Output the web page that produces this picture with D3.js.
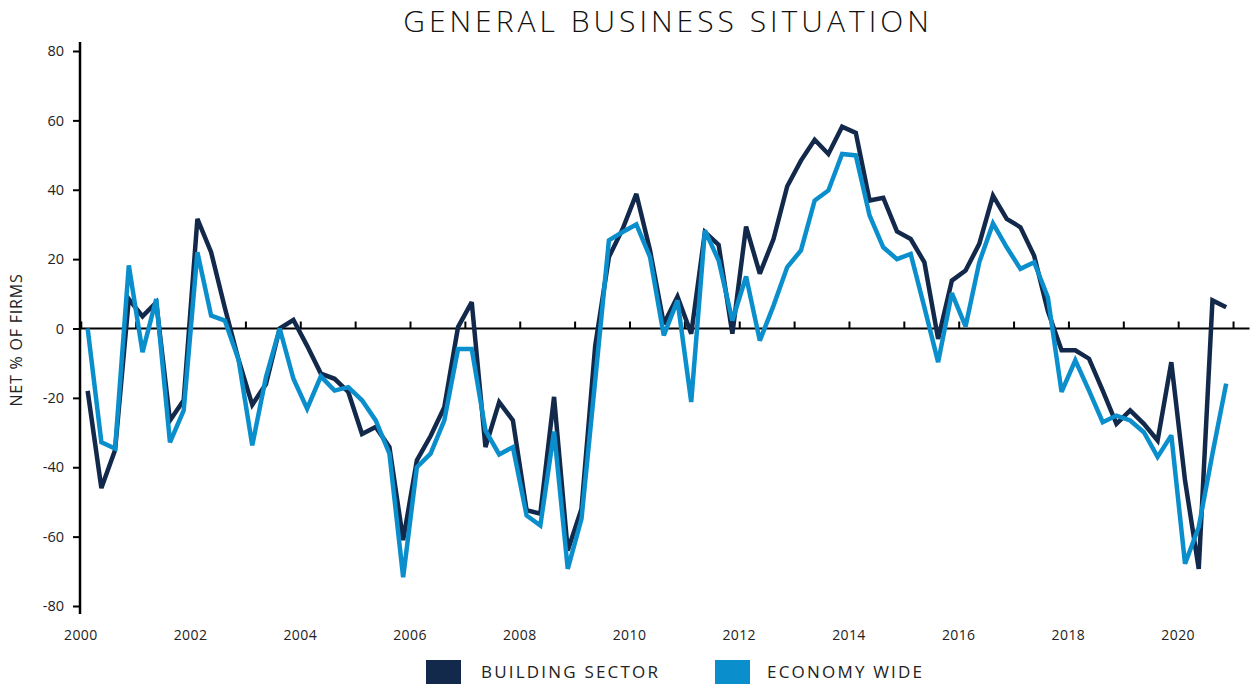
<!DOCTYPE html>
<html>
<head>
<meta charset="utf-8">
<script src="https://cdn.jsdelivr.net/npm/d3@7"></script>
<style>
  body { margin: 0; background: #fff; }
  svg { display: block; font-family: "Open Sans", sans-serif; }
</style>
</head>
<body>
<script>
// quarterly data, 2000 Q1 .. 2020 Q4
var years = d3.range(2000, 2021);
var quarters = [1, 2, 3, 4];

var building = [
  -18, -46, -35, 8.5, 3.5, 7.5, -26.5, -20.7,
  31.6, 22, 6, -9, -22, -16, 0, 2.5,
  -5, -13, -14.5, -18.3, -30.4, -28.4, -34.2, -61,
  -38, -31, -22.7, 0.4, 7.6, -34.2, -21.2, -26.5,
  -52.4, -53.4, -19.7, -64, -52, -5, 20.6, 28.7,
  38.8, 22.5, 1.3, 9.2, -1.5, 27.8, 24.1, -1.5,
  29.4, 15.8, 25.8, 41, 48.4, 54.4, 50.3, 58.2,
  56.4, 36.9, 37.7, 28, 25.8, 19.1, -3, 13.8,
  16.7, 24.4, 38.3, 31.6, 29.2, 21, 5, -6.3,
  -6.3, -8.7, -17.9, -27.5, -23.6, -27.5, -32.3, -9.7,
  -43.8, -69.3, 8.1, 6.1
];

var economy = [
  0, -32.8, -34.6, 18.2, -6.8, 8.5, -32.8, -23.6,
  22, 3.7, 2.3, -9, -33.7, -14, 0, -14.5,
  -23.1, -13.8, -17.9, -16.9, -20.7, -26.5, -36.1, -71.7,
  -40, -36.1, -26.5, -5.9, -5.9, -29.4, -36.3, -34.2,
  -53.9, -56.8, -29.7, -69.3, -54.9, -15, 25.4, 27.8,
  30, 20.6, -2, 8.1, -21.2, 28.3, 19.6, 2.3,
  15, -3.5, 6.6, 17.7, 22.5, 36.9, 39.8, 50.3,
  49.9, 32.6, 23.4, 20, 21.5, 6.1, -9.7, 10.2,
  0.6, 19.1, 30.3, 23.4, 17.2, 19.1, 9, -18.3,
  -9.2, -17.9, -27, -25.1, -26.5, -29.9, -37, -30.8,
  -67.8, -57.2, -36.1, -15.9
];

var yTicks = [-80, -60, -40, -20, 0, 20, 40, 60, 80];
var xLabels = [2000, 2002, 2004, 2006, 2008, 2010, 2012, 2014, 2016, 2018, 2020];
var xTicks = d3.range(2000, 2022);

var seriesNames = ["BUILDING SECTOR", "ECONOMY WIDE"];
var colors = ["#13294b", "#0a8fcc"];

// quarter -> decimal year at the middle of the quarter
var periods = [];
years.forEach(function(y) {
  quarters.forEach(function(q) { periods.push(y + (q - 1) / 4 + 0.125); });
});

var svg = d3.select("body").append("svg")
    .attr("width", 1252)
    .attr("height", 686);

var x = d3.scaleLinear()
    .domain([2000, 2021.3])
    .range([80.8, 1249.5]);

var y = d3.scaleLinear()
    .domain([-80, 80])
    .range([606, 51]);

// title
svg.append("text")
    .attr("x", 668)
    .attr("y", 32)
    .attr("text-anchor", "middle")
    .style("font-size", "30px")
    .style("font-weight", 300)
    .style("letter-spacing", "4px")
    .attr("fill", "#111")
    .text("GENERAL BUSINESS SITUATION");

// y axis
var yAxis = svg.append("g")
    .attr("transform", "translate(80,0)")
    .call(d3.axisLeft(y).tickValues(yTicks).tickSize(7).tickPadding(9)
      .tickFormat(function(d) { return String(d); }));
yAxis.select(".domain")
    .attr("d", "M0," + (y(80) - 9) + "V" + (y(-80) + 8))
    .attr("stroke", "#000")
    .attr("stroke-width", 2.5);
yAxis.selectAll(".tick line").attr("stroke", "#000").attr("stroke-width", 2);
yAxis.selectAll(".tick text")
    .style("font-size", "14.5px")
    .style("font-family", "'Open Sans', sans-serif")
    .attr("fill", "#222");

svg.append("text")
    .attr("transform", "translate(22,340) rotate(-90)")
    .attr("text-anchor", "middle")
    .style("font-size", "16px")
    .style("letter-spacing", "0.8px")
    .attr("fill", "#222")
    .text("NET % OF FIRMS");

// x axis along zero with yearly ticks pointing up
var zeroAxis = svg.append("g")
    .attr("transform", "translate(0," + y(0) + ")")
    .call(d3.axisTop(x).tickValues(xTicks).tickSize(7).tickFormat(""));
zeroAxis.select(".domain")
    .attr("d", "M80,0H" + x.range()[1])
    .attr("stroke", "#000")
    .attr("stroke-width", 2.2);
zeroAxis.selectAll(".tick line").attr("stroke", "#000").attr("stroke-width", 2);

// year labels at the bottom
svg.append("g")
    .selectAll("text")
    .data(xLabels)
    .enter().append("text")
      .attr("x", function(d) { return x(d); })
      .attr("y", 640)
      .attr("text-anchor", "middle")
      .style("font-size", "14px")
      .style("letter-spacing", "0.4px")
      .attr("fill", "#222")
      .text(function(d) { return d; });

// lines
var line = d3.line()
    .x(function(d, i) { return x(periods[i]); })
    .y(function(d) { return y(d); });

[building, economy].forEach(function(s, k) {
  svg.append("path")
      .datum(s)
      .attr("fill", "none")
      .attr("stroke", colors[k])
      .attr("stroke-width", 4.5)
      .attr("stroke-linejoin", "miter")
      .attr("stroke-miterlimit", 3)
      .attr("d", line);
});

// legend
var legendX = [426, 715];
var legend = svg.selectAll(".legend")
    .data(seriesNames)
    .enter().append("g")
      .attr("class", "legend")
      .attr("transform", function(d, i) { return "translate(" + legendX[i] + ",660)"; });

legend.append("rect")
    .attr("width", 35)
    .attr("height", 24)
    .attr("fill", function(d, i) { return colors[i]; });

legend.append("text")
    .attr("x", function(d, i) { return i ? 52 : 55; })
    .attr("y", 18)
    .style("font-size", "17px")
    .style("letter-spacing", "2.2px")
    .attr("fill", "#222")
    .text(function(d) { return d; });
</script>
</body>
</html>
